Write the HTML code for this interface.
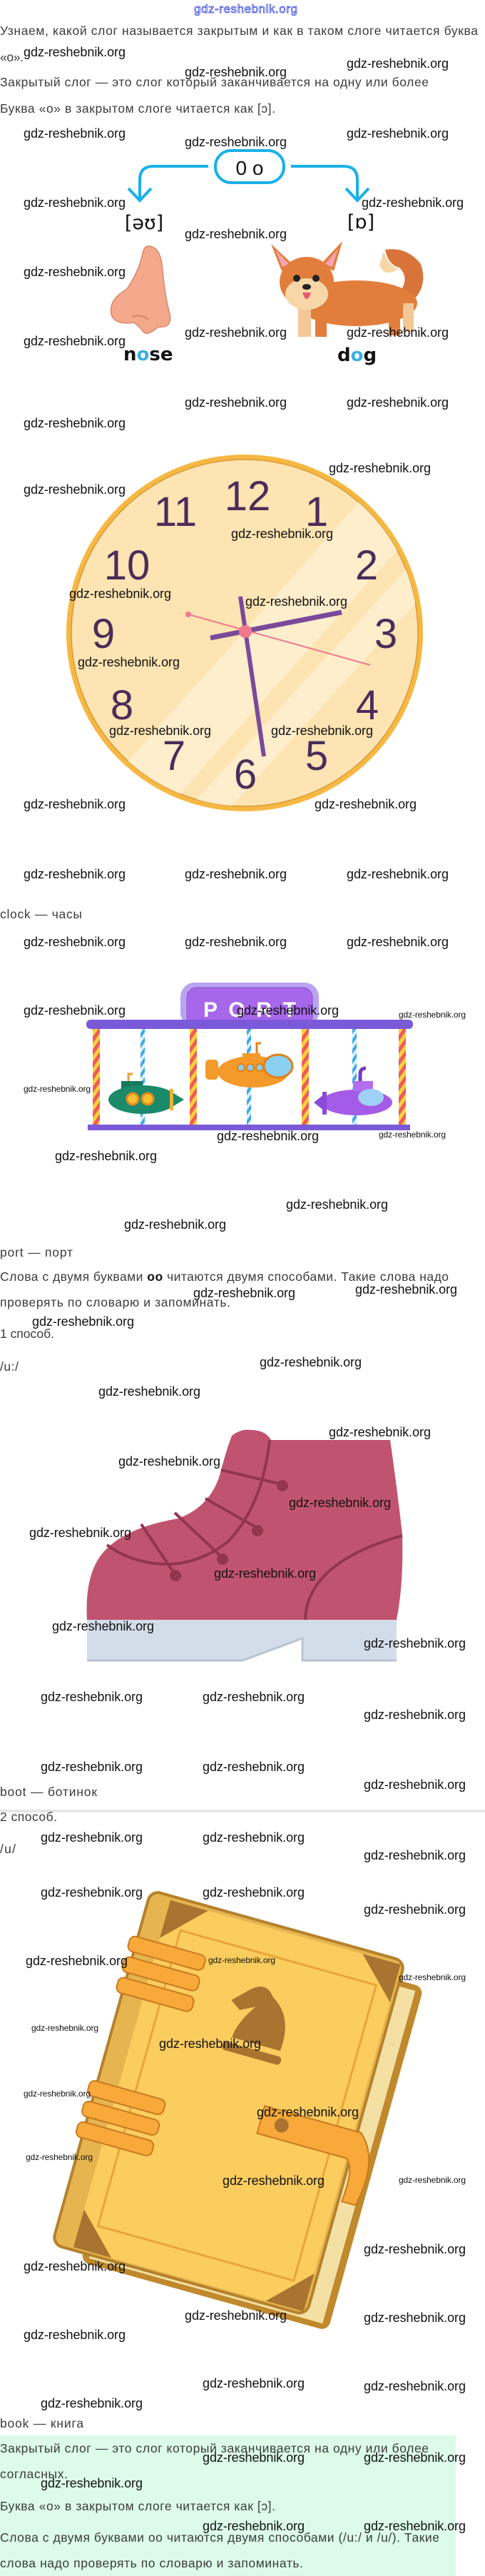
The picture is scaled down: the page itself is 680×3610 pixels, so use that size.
<!DOCTYPE html>
<html><head><meta charset="utf-8"><style>
html,body{margin:0;padding:0;background:#fff;}
svg{display:block;}
.t{font-family:"Liberation Sans",sans-serif;font-size:17.5px;fill:#3c3c3c;}
.w{font-family:"Liberation Sans",sans-serif;font-size:18px;fill:#111;}
.ws{font-family:"Liberation Sans",sans-serif;font-size:12px;fill:#111;}
.n{font-family:"Liberation Sans Narrow","Liberation Sans",sans-serif;font-size:58px;fill:#4a2d5a;text-anchor:middle;}
</style></head><body>
<svg width="680" height="3610" viewBox="0 0 680 3610" xmlns="http://www.w3.org/2000/svg">
<defs>
<clipPath id="cf"><circle cx="343" cy="887" r="243"/></clipPath>
<pattern id="ry" width="10" height="10" patternUnits="userSpaceOnUse" patternTransform="rotate(35)"><rect width="10" height="10" fill="#f7d23a"/><rect width="5" height="10" fill="#f05a5a"/></pattern>
<pattern id="bl" width="8" height="8" patternUnits="userSpaceOnUse" patternTransform="rotate(35)"><rect width="8" height="8" fill="#d8f0ff"/><rect width="4" height="8" fill="#3aa8e8"/></pattern>
</defs>

<text x="272" y="18" font-family="Liberation Sans,sans-serif" font-size="17" fill="#fff" stroke="#3344dd" stroke-width="0.8" textLength="145">gdz-reshebnik.org</text>

<text class="t" x="0" y="49" textLength="670">Узнаем, какой слог называется закрытым и как в таком слоге читается буква</text>
<text class="t" x="0" y="86" font-size="13" textLength="33">«о».</text>
<text class="t" x="0" y="121" textLength="601">Закрытый слог — это слог который заканчивается на одну или более</text>
<text class="t" x="0" y="158" textLength="386">Буква «о» в закрытом слоге читается как [ɔ].</text>

<rect x="302" y="211" width="96" height="45" rx="22" fill="#fff" stroke="#1ab0e8" stroke-width="4"/>
<text x="350" y="245" text-anchor="middle" font-family="Liberation Sans,sans-serif" font-size="28" fill="#111">0 o</text>
<path d="M292 233 H215 Q196 233 196 252 V280" fill="none" stroke="#1ab0e8" stroke-width="4"/>
<path d="M180 264 L196 281 L212 264" fill="none" stroke="#1ab0e8" stroke-width="4"/>
<path d="M408 233 H482 Q501 233 501 252 V280" fill="none" stroke="#1ab0e8" stroke-width="4"/>
<path d="M485 264 L501 281 L517 264" fill="none" stroke="#1ab0e8" stroke-width="4"/>
<text x="202" y="321" text-anchor="middle" font-family="DejaVu Sans,sans-serif" font-size="27" fill="#111">[əʊ]</text>
<text x="506" y="320" text-anchor="middle" font-family="DejaVu Sans,sans-serif" font-size="27" fill="#111">[ɒ]</text>

<path d="M208 345 Q226 345 228 380 Q232 420 238 440 Q242 460 222 458 Q208 470 202 466 Q196 458 188 452 Q160 456 156 440 Q152 420 178 405 Q195 380 200 355 Q202 345 208 345 Z" fill="#f5a98c" stroke="#d98466" stroke-width="1.5"/>
<path d="M185 445 Q195 438 208 448" fill="none" stroke="#d98466" stroke-width="2"/>

<g>
<path d="M540 350 Q570 345 590 370 Q600 400 580 420 L560 410 Q575 390 560 375 Q545 372 540 350 Z" fill="#d8743a"/>
<path d="M538 352 Q548 378 560 376 Q540 390 532 372 Z" fill="#f7d7a8"/>
<ellipse cx="500" cy="425" rx="85" ry="32" fill="#e27e3c"/>
<rect x="418" y="430" width="18" height="42" fill="#f3c896"/>
<rect x="442" y="432" width="16" height="40" fill="#e27e3c"/>
<rect x="545" y="430" width="16" height="40" fill="#e27e3c"/>
<rect x="565" y="425" width="15" height="40" fill="#f3c896"/>
<path d="M380 342 L410 370 L395 380 Z" fill="#e27e3c"/>
<path d="M480 338 L450 370 L468 380 Z" fill="#e27e3c"/>
<path d="M386 350 L405 370 L396 374 Z" fill="#f7a4b4"/>
<path d="M474 348 L456 370 L466 374 Z" fill="#f7a4b4"/>
<ellipse cx="430" cy="395" rx="38" ry="35" fill="#e27e3c"/>
<ellipse cx="430" cy="412" rx="30" ry="22" fill="#f7d7a8"/>
<circle cx="416" cy="390" r="5" fill="#222"/><circle cx="443" cy="390" r="5" fill="#222"/>
<ellipse cx="430" cy="402" rx="6" ry="4" fill="#222"/>
<path d="M424 410 Q430 428 436 410 Z" fill="#e85a6a"/>
</g>
<text x="173" y="505" font-family="DejaVu Sans,sans-serif" font-weight="bold" font-size="26" fill="#111">n<tspan fill="#3ab0e0">o</tspan>se</text>
<text x="473" y="506" font-family="DejaVu Sans,sans-serif" font-weight="bold" font-size="26" fill="#111">d<tspan fill="#3ab0e0">o</tspan>g</text>

<circle cx="343" cy="887" r="250" fill="#f6b842"/>
<circle cx="343" cy="887" r="243" fill="#fde4b2" stroke="#d99a3a" stroke-width="1.5"/>
<g clip-path="url(#cf)" fill="#fff3d8" opacity="0.7">
<polygon points="150,1100 560,640 620,700 210,1160"/>
<polygon points="240,1160 640,720 660,760 270,1190"/>
</g>
<text class="n" x="347" y="715">12</text>
<text class="n" x="444" y="737">1</text>
<text class="n" x="514" y="812">2</text>
<text class="n" x="541" y="908">3</text>
<text class="n" x="515" y="1008">4</text>
<text class="n" x="444" y="1079">5</text>
<text class="n" x="344" y="1105">6</text>
<text class="n" x="244" y="1079">7</text>
<text class="n" x="171" y="1008">8</text>
<text class="n" x="145" y="908">9</text>
<text class="n" x="178" y="812">10</text>
<text class="n" x="246" y="737">11</text>
<line x1="295" y1="894" x2="479" y2="858" stroke="#7a4a9a" stroke-width="7"/>
<line x1="337" y1="836" x2="370" y2="1060" stroke="#7a4a9a" stroke-width="6"/>
<line x1="264" y1="861" x2="519" y2="932" stroke="#f07890" stroke-width="2"/>
<circle cx="264" cy="861" r="4" fill="#f07890"/>
<circle cx="344" cy="885" r="9" fill="#f07890"/>

<text class="t" x="0" y="1287" textLength="115">clock — часы</text>

<rect x="253" y="1377" width="194" height="62" rx="20" fill="#b9a3f2"/>
<rect x="262" y="1384" width="176" height="55" rx="14" fill="#a767ea" stroke="#7f4fc8" stroke-width="1"/>
<text x="285" y="1425" font-family="Liberation Sans Narrow,Liberation Sans,sans-serif" font-weight="bold" font-size="30" fill="#fff" textLength="130">P O R T</text>
<rect x="121" y="1429" width="458" height="13" rx="6" fill="#7a5ad8"/>
<rect x="123" y="1576" width="452" height="8" fill="#7a5ad8"/>
<rect x="130" y="1442" width="10" height="134" fill="url(#ry)"/>
<rect x="266" y="1442" width="10" height="134" fill="url(#ry)"/>
<rect x="423" y="1442" width="10" height="134" fill="url(#ry)"/>
<rect x="559" y="1442" width="10" height="134" fill="url(#ry)"/>
<rect x="197" y="1442" width="6" height="134" fill="url(#bl)"/>
<rect x="346" y="1442" width="6" height="134" fill="url(#bl)"/>
<rect x="494" y="1442" width="6" height="134" fill="url(#bl)"/>
<rect x="170" y="1515" width="30" height="12" fill="#167a60"/>
<path d="M180 1515 v-10 h6" fill="none" stroke="#f0a030" stroke-width="3"/>
<ellipse cx="200" cy="1541" rx="48" ry="20" fill="#1a8a6a"/>
<polygon points="240,1530 258,1541 240,1552" fill="#1a8a6a"/>
<rect x="238" y="1526" width="5" height="30" fill="#f0b030"/>
<circle cx="186" cy="1540" r="8" fill="#f6c030" stroke="#e08a20" stroke-width="3"/>
<circle cx="207" cy="1540" r="8" fill="#f6c030" stroke="#e08a20" stroke-width="3"/>
<ellipse cx="355" cy="1502" rx="50" ry="22" fill="#f39a2a"/>
<ellipse cx="390" cy="1494" rx="20" ry="16" fill="#8ad0f0" stroke="#e0801a" stroke-width="3"/>
<rect x="340" y="1476" width="25" height="10" fill="#f39a2a"/>
<path d="M360 1476 v-14 h6" fill="none" stroke="#e0801a" stroke-width="3"/>
<rect x="288" y="1485" width="18" height="28" rx="5" fill="#f39a2a"/>
<circle cx="338" cy="1496" r="5" fill="#8ad0f0" stroke="#e0801a" stroke-width="2"/>
<circle cx="351" cy="1496" r="5" fill="#8ad0f0" stroke="#e0801a" stroke-width="2"/>
<circle cx="364" cy="1496" r="5" fill="#8ad0f0" stroke="#e0801a" stroke-width="2"/>
<ellipse cx="500" cy="1545" rx="50" ry="18" fill="#a45ce8"/>
<rect x="495" y="1515" width="28" height="14" fill="#b56ef0"/>
<ellipse cx="520" cy="1538" rx="18" ry="12" fill="#9fd0f5"/>
<path d="M505 1515 v-10 q0 -8 8 -8" fill="none" stroke="#7a3ac0" stroke-width="5"/>
<polygon points="455,1533 440,1545 455,1557" fill="#8a4ad8"/>
<rect x="452" y="1530" width="6" height="32" fill="#8a4ad8"/>

<text class="t" x="0" y="1761" textLength="102">port — порт</text>
<text class="t" x="0" y="1795" textLength="629">Слова с двумя буквами <tspan font-weight="bold" fill="#111">оо</tspan> читаются двумя способами. Такие слова надо</text>
<text class="t" x="0" y="1831" textLength="323">проверять по словарю и запоминать.</text>
<text class="t" x="0" y="1875" textLength="76">1 способ.</text>
<text class="t" x="0" y="1921" textLength="26">/u:/</text>

<path d="M325 2012 Q338 2002 352 2004 Q372 2004 380 2018 L547 2018 Q556 2080 564 2150 Q566 2220 556 2270 L122 2270 Q118 2200 150 2170 Q180 2140 250 2128 Q298 2110 310 2060 Q318 2030 325 2012 Z" fill="#c0546e"/>
<g fill="none" stroke="#93354f" stroke-width="4">
<path d="M378 2018 Q368 2110 320 2160 Q270 2200 210 2190 Q175 2184 150 2165"/>
<path d="M310 2060 L395 2080"/><path d="M288 2100 L362 2142"/><path d="M245 2120 L312 2183"/><path d="M198 2136 L245 2206"/>
<path d="M428 2270 Q430 2190 564 2152"/>
</g>
<g fill="#93354f"><circle cx="396" cy="2082" r="8"/><circle cx="361" cy="2145" r="8"/><circle cx="312" cy="2185" r="8"/><circle cx="246" cy="2208" r="8"/></g>
<polygon points="122,2270 556,2270 556,2328 424,2328 424,2295 340,2326 122,2326" fill="#d3dde9"/>
<path d="M122 2327 H340 L424 2296 V2327 H556" fill="none" stroke="#b8c4d2" stroke-width="3"/>

<text class="t" x="0" y="2517" textLength="136">boot — ботинок</text>
<rect x="0" y="2536" width="680" height="4" fill="#e6e6e6"/>
<text class="t" x="0" y="2552" textLength="80">2 способ.</text>
<text class="t" x="0" y="2597" textLength="22">/u/</text>

<g transform="translate(330 2950) rotate(15.6)">
<rect x="-150" y="-230" width="360" height="500" rx="12" fill="#c0892e"/>
<rect x="-140" y="-222" width="340" height="484" fill="#f5e0a4"/>
<rect x="-195" y="-258" width="370" height="515" rx="14" fill="#e6b550" stroke="#b5812c" stroke-width="4"/>
<rect x="-165" y="-252" width="335" height="505" fill="#fbcd5e"/>
<rect x="-140" y="-215" width="285" height="430" fill="none" stroke="#e9a43a" stroke-width="3"/>
<polygon points="-165,-252 -110,-252 -165,-197" fill="#a87430"/>
<polygon points="170,-252 115,-252 170,-197" fill="#a87430"/>
<polygon points="-165,253 -110,253 -165,198" fill="#a87430"/>
<polygon points="170,253 115,253 170,198" fill="#a87430"/>
<g fill="#f9a93a" stroke="#c77a20" stroke-width="2">
<rect x="-205" y="-190" width="110" height="22" rx="8"/><rect x="-205" y="-160" width="110" height="22" rx="8"/><rect x="-205" y="-130" width="110" height="22" rx="8"/>
<rect x="-205" y="20" width="110" height="22" rx="8"/><rect x="-205" y="50" width="110" height="22" rx="8"/><rect x="-205" y="80" width="110" height="22" rx="8"/>
</g>
<path d="M10 -160 Q-5 -180 -25 -160 L-45 -140 L-30 -130 L-10 -140 Q-30 -110 -30 -90 L40 -90 Q45 -140 10 -160 Z" fill="#a87430"/>
<rect x="-40" y="-82" width="85" height="12" rx="5" fill="#a87430"/>
<path d="M40 -10 L180 -10 Q215 20 200 90 L180 90 Q185 40 170 30 L40 30 Z" fill="#f9a93a" stroke="#c77a20" stroke-width="2"/>
<circle cx="70" cy="10" r="10" fill="#a87430"/>
</g>

<text class="t" x="0" y="3402" textLength="117">book — книга</text>
<rect x="0" y="3413" width="639" height="197" fill="#dcfbe9"/>
<text class="t" x="0" y="3437" textLength="601">Закрытый слог — это слог который заканчивается на одну или более</text>
<text class="t" x="0" y="3473" textLength="95">согласных.</text>
<text class="t" x="0" y="3518" textLength="386">Буква «о» в закрытом слоге читается как [ɔ].</text>
<text class="t" x="0" y="3562" textLength="616">Слова с двумя буквами оо читаются двумя способами (/u:/ и /u/). Такие</text>
<text class="t" x="0" y="3598" textLength="425">слова надо проверять по словарю и запоминать.</text>

<g class="w">
<text x="33" y="79" textLength="143" class="w">gdz-reshebnik.org</text>
<text x="486" y="95" textLength="143" class="w">gdz-reshebnik.org</text>
<text x="259" y="107" textLength="143" class="w">gdz-reshebnik.org</text>
<text x="33" y="193" textLength="143" class="w">gdz-reshebnik.org</text>
<text x="486" y="193" textLength="143" class="w">gdz-reshebnik.org</text>
<text x="259" y="205" textLength="143" class="w">gdz-reshebnik.org</text>
<text x="33" y="290" textLength="143" class="w">gdz-reshebnik.org</text>
<text x="507" y="290" textLength="143" class="w">gdz-reshebnik.org</text>
<text x="259" y="334" textLength="143" class="w">gdz-reshebnik.org</text>
<text x="33" y="387" textLength="143" class="w">gdz-reshebnik.org</text>
<text x="259" y="472" textLength="143" class="w">gdz-reshebnik.org</text>
<text x="486" y="472" textLength="143" class="w">gdz-reshebnik.org</text>
<text x="33" y="484" textLength="143" class="w">gdz-reshebnik.org</text>
<text x="259" y="570" textLength="143" class="w">gdz-reshebnik.org</text>
<text x="486" y="570" textLength="143" class="w">gdz-reshebnik.org</text>
<text x="33" y="599" textLength="143" class="w">gdz-reshebnik.org</text>
<text x="461" y="662" textLength="143" class="w">gdz-reshebnik.org</text>
<text x="33" y="692" textLength="143" class="w">gdz-reshebnik.org</text>
<text x="324" y="754" textLength="143" class="w">gdz-reshebnik.org</text>
<text x="97" y="838" textLength="143" class="w">gdz-reshebnik.org</text>
<text x="344" y="849" textLength="143" class="w">gdz-reshebnik.org</text>
<text x="109" y="934" textLength="143" class="w">gdz-reshebnik.org</text>
<text x="153" y="1030" textLength="143" class="w">gdz-reshebnik.org</text>
<text x="380" y="1030" textLength="143" class="w">gdz-reshebnik.org</text>
<text x="33" y="1133" textLength="143" class="w">gdz-reshebnik.org</text>
<text x="441" y="1133" textLength="143" class="w">gdz-reshebnik.org</text>
<text x="33" y="1231" textLength="143" class="w">gdz-reshebnik.org</text>
<text x="259" y="1231" textLength="143" class="w">gdz-reshebnik.org</text>
<text x="486" y="1231" textLength="143" class="w">gdz-reshebnik.org</text>
<text x="33" y="1326" textLength="143" class="w">gdz-reshebnik.org</text>
<text x="259" y="1326" textLength="143" class="w">gdz-reshebnik.org</text>
<text x="486" y="1326" textLength="143" class="w">gdz-reshebnik.org</text>
<text x="33" y="1422" textLength="143" class="w">gdz-reshebnik.org</text>
<text x="332" y="1422" textLength="143" class="w">gdz-reshebnik.org</text>
<text x="304" y="1598" textLength="143" class="w">gdz-reshebnik.org</text>
<text x="77" y="1626" textLength="143" class="w">gdz-reshebnik.org</text>
<text x="401" y="1694" textLength="143" class="w">gdz-reshebnik.org</text>
<text x="174" y="1722" textLength="143" class="w">gdz-reshebnik.org</text>
<text x="498" y="1813" textLength="143" class="w">gdz-reshebnik.org</text>
<text x="271" y="1818" textLength="143" class="w">gdz-reshebnik.org</text>
<text x="45" y="1858" textLength="143" class="w">gdz-reshebnik.org</text>
<text x="364" y="1915" textLength="143" class="w">gdz-reshebnik.org</text>
<text x="138" y="1956" textLength="143" class="w">gdz-reshebnik.org</text>
<text x="461" y="2013" textLength="143" class="w">gdz-reshebnik.org</text>
<text x="166" y="2054" textLength="143" class="w">gdz-reshebnik.org</text>
<text x="405" y="2112" textLength="143" class="w">gdz-reshebnik.org</text>
<text x="41" y="2154" textLength="143" class="w">gdz-reshebnik.org</text>
<text x="300" y="2211" textLength="143" class="w">gdz-reshebnik.org</text>
<text x="73" y="2285" textLength="143" class="w">gdz-reshebnik.org</text>
<text x="510" y="2309" textLength="143" class="w">gdz-reshebnik.org</text>
<text x="57" y="2384" textLength="143" class="w">gdz-reshebnik.org</text>
<text x="284" y="2384" textLength="143" class="w">gdz-reshebnik.org</text>
<text x="510" y="2409" textLength="143" class="w">gdz-reshebnik.org</text>
<text x="57" y="2482" textLength="143" class="w">gdz-reshebnik.org</text>
<text x="284" y="2482" textLength="143" class="w">gdz-reshebnik.org</text>
<text x="510" y="2507" textLength="143" class="w">gdz-reshebnik.org</text>
<text x="57" y="2581" textLength="143" class="w">gdz-reshebnik.org</text>
<text x="284" y="2581" textLength="143" class="w">gdz-reshebnik.org</text>
<text x="510" y="2606" textLength="143" class="w">gdz-reshebnik.org</text>
<text x="57" y="2658" textLength="143" class="w">gdz-reshebnik.org</text>
<text x="284" y="2658" textLength="143" class="w">gdz-reshebnik.org</text>
<text x="510" y="2682" textLength="143" class="w">gdz-reshebnik.org</text>
<text x="36" y="2754" textLength="143" class="w">gdz-reshebnik.org</text>
<text x="223" y="2870" textLength="143" class="w">gdz-reshebnik.org</text>
<text x="360" y="2966" textLength="143" class="w">gdz-reshebnik.org</text>
<text x="312" y="3062" textLength="143" class="w">gdz-reshebnik.org</text>
<text x="510" y="3158" textLength="143" class="w">gdz-reshebnik.org</text>
<text x="33" y="3182" textLength="143" class="w">gdz-reshebnik.org</text>
<text x="259" y="3251" textLength="143" class="w">gdz-reshebnik.org</text>
<text x="510" y="3254" textLength="143" class="w">gdz-reshebnik.org</text>
<text x="33" y="3278" textLength="143" class="w">gdz-reshebnik.org</text>
<text x="284" y="3346" textLength="143" class="w">gdz-reshebnik.org</text>
<text x="510" y="3350" textLength="143" class="w">gdz-reshebnik.org</text>
<text x="57" y="3374" textLength="143" class="w">gdz-reshebnik.org</text>
<text x="284" y="3450" textLength="143" class="w">gdz-reshebnik.org</text>
<text x="510" y="3450" textLength="143" class="w">gdz-reshebnik.org</text>
<text x="57" y="3486" textLength="143" class="w">gdz-reshebnik.org</text>
<text x="284" y="3546" textLength="143" class="w">gdz-reshebnik.org</text>
<text x="510" y="3546" textLength="143" class="w">gdz-reshebnik.org</text>
</g>
<g>
<text x="559" y="1426" textLength="94" class="ws">gdz-reshebnik.org</text>
<text x="33" y="1530" textLength="94" class="ws">gdz-reshebnik.org</text>
<text x="531" y="1594" textLength="94" class="ws">gdz-reshebnik.org</text>
<text x="292" y="2751" textLength="94" class="ws">gdz-reshebnik.org</text>
<text x="559" y="2775" textLength="94" class="ws">gdz-reshebnik.org</text>
<text x="44" y="2846" textLength="94" class="ws">gdz-reshebnik.org</text>
<text x="33" y="2938" textLength="94" class="ws">gdz-reshebnik.org</text>
<text x="36" y="3027" textLength="94" class="ws">gdz-reshebnik.org</text>
<text x="559" y="3059" textLength="94" class="ws">gdz-reshebnik.org</text>
</g>
</svg>
</body></html>
